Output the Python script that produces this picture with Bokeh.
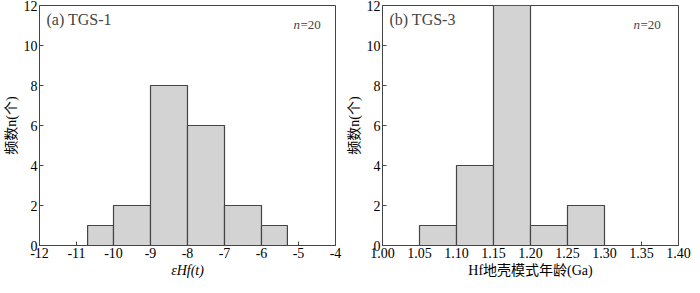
from bokeh.plotting import figure
from bokeh.layouts import row
from bokeh.models import Label, FixedTicker, NumeralTickFormatter, PrintfTickFormatter, Range1d
from bokeh.embed import file_html
from bokeh.resources import INLINE

# ---- data ----
a_left = [-10.7, -10, -9, -8, -7, -6]
a_right = [-10, -9, -8, -7, -6, -5.3]
a_counts = [1, 2, 8, 6, 2, 1]
a_xticks = [-12, -11, -10, -9, -8, -7, -6, -5, -4]

b_left = [1.05, 1.10, 1.15, 1.20, 1.25]
b_right = [1.10, 1.15, 1.20, 1.25, 1.30]
b_counts = [1, 4, 12, 1, 2]
b_xticks = [1.00, 1.05, 1.10, 1.15, 1.20, 1.25, 1.30, 1.35, 1.40]

y_ticks = [0, 2, 4, 6, 8, 10, 12]

SERIF = "Liberation Serif, Noto Sans CJK SC"
EDGE = "#444444"
FILL = "#d3d3d3"


def style(p, xticks):
    p.yaxis.ticker = FixedTicker(ticks=y_ticks)
    p.xaxis.ticker = FixedTicker(ticks=xticks)
    for ax in (p.xaxis[0], p.yaxis[0]):
        ax.major_tick_in = 4
        ax.major_tick_out = 0
        ax.minor_tick_line_color = None
        ax.axis_line_color = EDGE
        ax.major_tick_line_color = EDGE
        ax.major_label_text_font = SERIF
        ax.major_label_text_font_size = "14px"
        ax.major_label_text_color = "black"
        ax.axis_label_text_font = SERIF
        ax.axis_label_text_font_size = "14px"
        ax.axis_label_text_font_style = "normal"
        ax.axis_label_text_color = "black"
        ax.major_label_standoff = 2
        ax.axis_label_standoff = 2
    p.xgrid.grid_line_color = None
    p.ygrid.grid_line_color = None
    p.outline_line_color = EDGE
    p.outline_line_width = 1
    p.background_fill_color = "white"
    p.border_fill_color = "white"


FW = 296
FH = 240

# ---- panel (a) ----
p1 = figure(frame_width=FW, frame_height=FH, x_range=Range1d(-12, -4), y_range=Range1d(0, 12),
            output_backend="svg", toolbar_location=None,
            min_border_left=20, min_border_right=8, min_border_top=5, min_border_bottom=0)
p1.quad(left=a_left, right=a_right, bottom=0, top=a_counts,
        fill_color=FILL, line_color=EDGE, line_width=1.2)
style(p1, a_xticks)
p1.xaxis.formatter = PrintfTickFormatter(format="%d")
p1.yaxis.axis_label = "频数n(个)"
p1.xaxis.axis_label = "εHf(t)"
p1.xaxis.axis_label_text_font_style = "italic"
p1.add_layout(Label(x=-12, y=12, x_offset=7, y_offset=-22, text="(a) TGS-1",
                    text_font=SERIF, text_font_size="16px"))
p1.add_layout(Label(x=-4, y=12, x_offset=-42, y_offset=-26, text="n",
                    text_font=SERIF, text_font_size="13px", text_font_style="italic"))
p1.add_layout(Label(x=-4, y=12, x_offset=-35, y_offset=-26, text="=20",
                    text_font=SERIF, text_font_size="13px"))

# ---- panel (b) ----
p2 = figure(frame_width=FW, frame_height=FH, x_range=Range1d(1.0, 1.4), y_range=Range1d(0, 12),
            output_backend="svg", toolbar_location=None,
            min_border_left=36, min_border_right=14, min_border_top=5, min_border_bottom=0)
p2.quad(left=b_left, right=b_right, bottom=0, top=b_counts,
        fill_color=FILL, line_color=EDGE, line_width=1.2)
style(p2, b_xticks)
p2.xaxis.formatter = NumeralTickFormatter(format="0.00")
p2.yaxis.axis_label = "频数n(个)"
p2.xaxis.axis_label = "Hf地壳模式年龄(Ga)"
p2.add_layout(Label(x=1.0, y=12, x_offset=7, y_offset=-22, text="(b) TGS-3",
                    text_font=SERIF, text_font_size="16px"))
p2.add_layout(Label(x=1.4, y=12, x_offset=-45, y_offset=-26, text="n",
                    text_font=SERIF, text_font_size="13px", text_font_style="italic"))
p2.add_layout(Label(x=1.4, y=12, x_offset=-38, y_offset=-26, text="=20",
                    text_font=SERIF, text_font_size="13px"))

layout = row(p1, p2)
open("out.html", "w").write(file_html(layout, INLINE))
